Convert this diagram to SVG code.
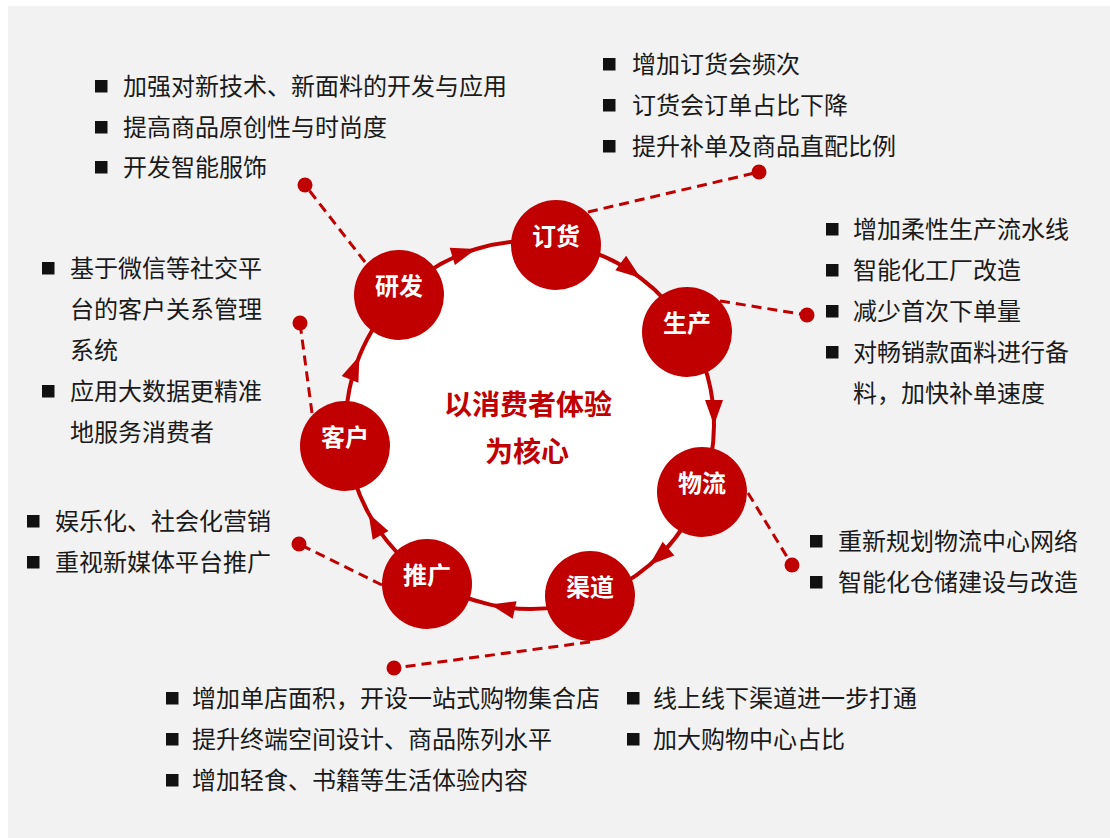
<svg xmlns="http://www.w3.org/2000/svg" width="1110" height="838" viewBox="0 0 1110 838">
<defs>
<style>
.bg{fill:#f2f2f2}
.ring{fill:none;stroke:#c00000;stroke-width:4;marker-mid:url(#ah)}
.dash{fill:none;stroke:#c00000;stroke-width:3;stroke-dasharray:10 6}
.dot{fill:#c00000}
.node{fill:#c00000}
.nl{fill:#ffffff;font-family:"Noto Sans CJK SC","Noto Sans",sans-serif;font-size:24px;font-weight:bold;text-anchor:middle;dominant-baseline:central}
.ct{fill:#c00000;font-family:"Noto Sans CJK SC","Noto Sans",sans-serif;font-size:28px;font-weight:bold;text-anchor:middle;dominant-baseline:central}
.t{fill:#1a1a1a;font-family:"Noto Sans CJK SC","Noto Sans",sans-serif;font-size:24px;dominant-baseline:central}
.b{fill:#111111}
</style>
<marker id="ah" markerUnits="userSpaceOnUse" orient="auto" markerWidth="30" markerHeight="22" viewBox="-27 -11 30 22" refX="0" refY="0" overflow="visible">
<path d="M0,0 L-25,-9 L-25,9 Z" fill="#c00000"/>
</marker>
</defs>
<rect class="bg" x="8" y="6" width="1102" height="832"/>
<circle cx="530" cy="425" r="184" fill="#ffffff"/>

<g id="connectors">
<path class="ring" d="M399.4,295.4 A184,184 0 0 1 476.2,249.0 A184,184 0 0 1 556.2,242.9"/>
<path class="ring" d="M556.2,242.9 A184,184 0 0 1 640.7,278.1 A184,184 0 0 1 688.4,331.3"/>
<path class="ring" d="M688.4,331.3 A184,184 0 0 1 714,425 A184,184 0 0 1 701.4,491.8"/>
<path class="ring" d="M701.4,491.8 A184,184 0 0 1 649.5,564.9 A184,184 0 0 1 590.8,598.7"/>
<path class="ring" d="M590.8,598.7 A184,184 0 0 1 490.2,604.6 A184,184 0 0 1 430.0,579.5"/>
<path class="ring" d="M430.0,579.5 A184,184 0 0 1 368.6,513.4 A184,184 0 0 1 347.2,445.8"/>
<path class="ring" d="M347.2,445.8 A184,184 0 0 1 359.4,356.1 A184,184 0 0 1 399.4,295.4"/>
<line class="dash" x1="365" y1="262" x2="305" y2="185"/>
<circle class="dot" cx="305" cy="185" r="7.5"/>
<line class="dash" x1="588" y1="212" x2="759" y2="172"/>
<circle class="dot" cx="759" cy="172" r="7.5"/>
<line class="dash" x1="720" y1="301" x2="807" y2="315"/>
<circle class="dot" cx="807" cy="315" r="7.5"/>
<line class="dash" x1="748" y1="493" x2="792" y2="565"/>
<circle class="dot" cx="792" cy="565" r="7.5"/>
<line class="dash" x1="590" y1="642" x2="394" y2="668"/>
<circle class="dot" cx="394" cy="668" r="7.5"/>
<line class="dash" x1="382" y1="585" x2="299" y2="544"/>
<circle class="dot" cx="299" cy="544" r="7.5"/>
<line class="dash" x1="312" y1="413" x2="300" y2="323"/>
<circle class="dot" cx="300" cy="323" r="7.5"/>
</g>

<g id="node-yanfa"><circle class="node" cx="399" cy="295" r="45"/><text class="nl" x="399" y="284">研发</text></g>
<g id="node-dinghuo"><circle class="node" cx="556" cy="245" r="45"/><text class="nl" x="556" y="234">订货</text></g>
<g id="node-shengchan"><circle class="node" cx="687" cy="332" r="45"/><text class="nl" x="687" y="321">生产</text></g>
<g id="node-wuliu"><circle class="node" cx="702" cy="492" r="45"/><text class="nl" x="702" y="481">物流</text></g>
<g id="node-qudao"><circle class="node" cx="590" cy="596" r="45"/><text class="nl" x="590" y="585">渠道</text></g>
<g id="node-tuiguang"><circle class="node" cx="427" cy="584" r="45"/><text class="nl" x="427" y="573">推广</text></g>
<g id="node-kehu"><circle class="node" cx="345" cy="446" r="45"/><text class="nl" x="345" y="435">客户</text></g>

<g id="center">
<text class="ct" x="528" y="403">以消费者体验</text>
<text class="ct" x="527" y="450">为核心</text>
</g>

<g id="list-yanfa">
<rect class="b" x="95" y="80" width="12.5" height="12.5"/><text class="t" x="123" y="84">加强对新技术、新面料的开发与应用</text>
<rect class="b" x="95" y="121" width="12.5" height="12.5"/><text class="t" x="123" y="125">提高商品原创性与时尚度</text>
<rect class="b" x="95" y="161" width="12.5" height="12.5"/><text class="t" x="123" y="165">开发智能服饰</text>
</g>
<g id="list-dinghuo">
<rect class="b" x="603" y="58" width="12.5" height="12.5"/><text class="t" x="632" y="62">增加订货会频次</text>
<rect class="b" x="603" y="99" width="12.5" height="12.5"/><text class="t" x="632" y="103">订货会订单占比下降</text>
<rect class="b" x="603" y="140" width="12.5" height="12.5"/><text class="t" x="632" y="144">提升补单及商品直配比例</text>
</g>
<g id="list-shengchan">
<rect class="b" x="826" y="223" width="12.5" height="12.5"/><text class="t" x="853" y="227">增加柔性生产流水线</text>
<rect class="b" x="826" y="264" width="12.5" height="12.5"/><text class="t" x="853" y="268">智能化工厂改造</text>
<rect class="b" x="826" y="305" width="12.5" height="12.5"/><text class="t" x="853" y="309">减少首次下单量</text>
<rect class="b" x="826" y="346" width="12.5" height="12.5"/><text class="t" x="853" y="350">对畅销款面料进行备</text>
<text class="t" x="853" y="391">料，加快补单速度</text>
</g>
<g id="list-wuliu">
<rect class="b" x="810" y="535" width="12.5" height="12.5"/><text class="t" x="838" y="539">重新规划物流中心网络</text>
<rect class="b" x="810" y="576" width="12.5" height="12.5"/><text class="t" x="838" y="580">智能化仓储建设与改造</text>
</g>
<g id="list-kehu">
<rect class="b" x="42" y="262" width="12.5" height="12.5"/><text class="t" x="70" y="266">基于微信等社交平</text>
<text class="t" x="70" y="307">台的客户关系管理</text>
<text class="t" x="70" y="348">系统</text>
<rect class="b" x="42" y="385" width="12.5" height="12.5"/><text class="t" x="70" y="389">应用大数据更精准</text>
<text class="t" x="70" y="430">地服务消费者</text>
</g>
<g id="list-tuiguang">
<rect class="b" x="27" y="515" width="12.5" height="12.5"/><text class="t" x="55" y="519">娱乐化、社会化营销</text>
<rect class="b" x="27" y="556" width="12.5" height="12.5"/><text class="t" x="55" y="560">重视新媒体平台推广</text>
</g>
<g id="list-qudao">
<rect class="b" x="166" y="692" width="12.5" height="12.5"/><text class="t" x="192" y="696">增加单店面积，开设一站式购物集合店</text>
<rect class="b" x="166" y="733" width="12.5" height="12.5"/><text class="t" x="192" y="737">提升终端空间设计、商品陈列水平</text>
<rect class="b" x="166" y="774" width="12.5" height="12.5"/><text class="t" x="192" y="778">增加轻食、书籍等生活体验内容</text>
<rect class="b" x="627" y="692" width="12.5" height="12.5"/><text class="t" x="653" y="696">线上线下渠道进一步打通</text>
<rect class="b" x="627" y="733" width="12.5" height="12.5"/><text class="t" x="653" y="737">加大购物中心占比</text>
</g>
</svg>
